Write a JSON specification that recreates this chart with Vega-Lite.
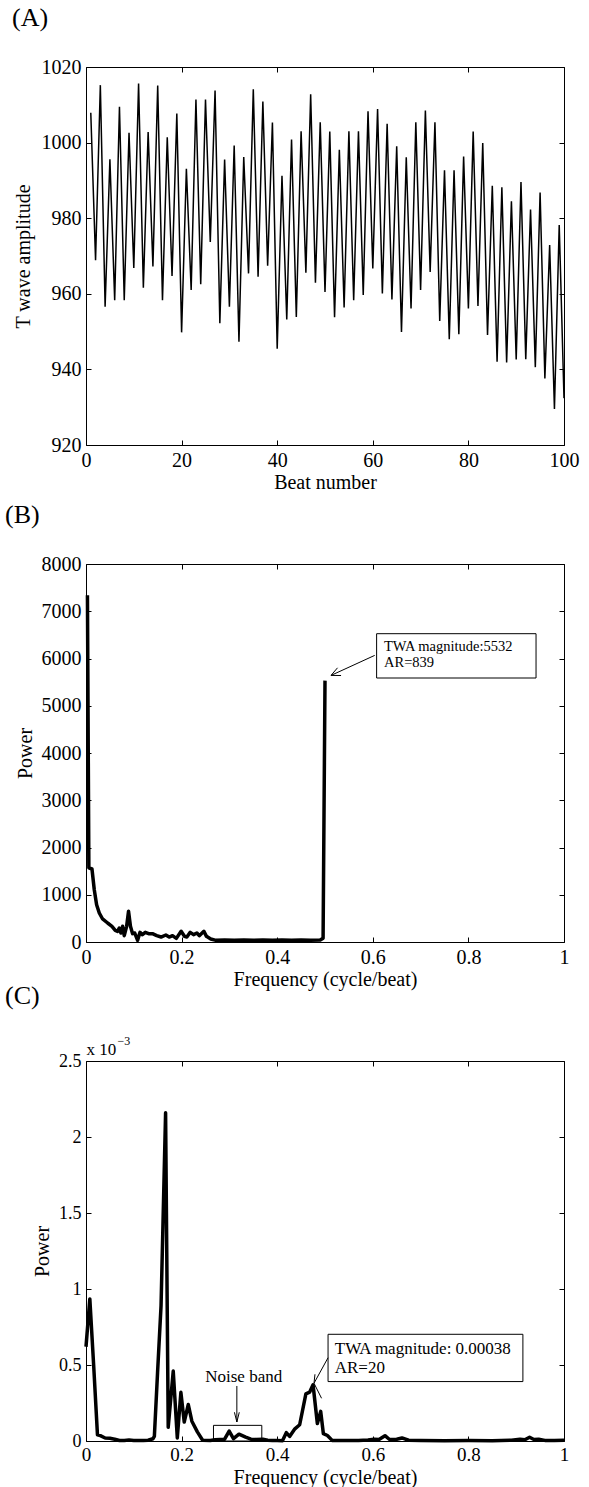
{
  "$schema": "https://vega.github.io/schema/vega-lite/v6.json",
  "background": "white",
  "padding": {"left": 5, "top": 5, "right": 5, "bottom": 5},
  "bounds": "flush",
  "spacing": 119,
  "config": {
    "font": "Liberation Serif",
    "view": {"stroke": null},
    "axis": {"grid": false, "domainColor": "black", "domainWidth": 1, "tickColor": "black", "tickSize": -5, "tickWidth": 1,
      "labelColor": "black", "titleColor": "black", "labelFont": "Liberation Serif", "titleFont": "Liberation Serif",
      "labelFontSize": 20, "titleFontSize": 20, "titleFontWeight": "normal", "labelFlush": false, "labelOverlap": false, "labelPadding": 10},
    "title": {"font": "Liberation Serif", "fontSize": 26, "fontWeight": "normal", "color": "black", "anchor": "start", "frame": "group"}
  },
  "datasets": {
    "beats": [
      {"beat":1,"amp":1007.9},{"beat":2,"amp":968.9},{"beat":3,"amp":1015.2},{"beat":4,"amp":956.6},{"beat":5,"amp":995.6},
      {"beat":6,"amp":958.3},{"beat":7,"amp":1009.5},{"beat":8,"amp":958.3},{"beat":9,"amp":1002.6},{"beat":10,"amp":966.8},
      {"beat":11,"amp":1015.6},{"beat":12,"amp":961.6},{"beat":13,"amp":1002.8},{"beat":14,"amp":967.2},{"beat":15,"amp":1015.1},
      {"beat":16,"amp":958.3},{"beat":17,"amp":1001.4},{"beat":18,"amp":964.7},{"beat":19,"amp":1007.7},{"beat":20,"amp":949.8},
      {"beat":21,"amp":993.1},{"beat":22,"amp":961},{"beat":23,"amp":1011.4},{"beat":24,"amp":962.5},{"beat":25,"amp":1011.4},
      {"beat":26,"amp":973.7},{"beat":27,"amp":1013.8},{"beat":28,"amp":952.2},{"beat":29,"amp":995.5},{"beat":30,"amp":956.6},
      {"beat":31,"amp":999.2},{"beat":32,"amp":947.3},{"beat":33,"amp":996.2},{"beat":34,"amp":965.4},{"beat":35,"amp":1014.1},
      {"beat":36,"amp":964.5},{"beat":37,"amp":1010.9},{"beat":38,"amp":967.4},{"beat":39,"amp":1005.3},{"beat":40,"amp":945.5},
      {"beat":41,"amp":991.2},{"beat":42,"amp":953.2},{"beat":43,"amp":1000.8},{"beat":44,"amp":953.9},{"beat":45,"amp":1003},
      {"beat":46,"amp":965.6},{"beat":47,"amp":1012.8},{"beat":48,"amp":962.9},{"beat":49,"amp":1005.4},{"beat":50,"amp":960.5},
      {"beat":51,"amp":1002.9},{"beat":52,"amp":953.8},{"beat":53,"amp":998.1},{"beat":54,"amp":956.4},{"beat":55,"amp":1003},
      {"beat":56,"amp":958.3},{"beat":57,"amp":1003},{"beat":58,"amp":959.7},{"beat":59,"amp":1008.3},{"beat":60,"amp":966.7},
      {"beat":61,"amp":1008.9},{"beat":62,"amp":960.1},{"beat":63,"amp":1005},{"beat":64,"amp":958.5},{"beat":65,"amp":999},
      {"beat":66,"amp":949.9},{"beat":67,"amp":996.1},{"beat":68,"amp":956.1},{"beat":69,"amp":1005.4},{"beat":70,"amp":961},
      {"beat":71,"amp":1008.5},{"beat":72,"amp":965.8},{"beat":73,"amp":1005.4},{"beat":74,"amp":952.8},{"beat":75,"amp":992.7},
      {"beat":76,"amp":948},{"beat":77,"amp":992.7},{"beat":78,"amp":949.3},{"beat":79,"amp":996.3},{"beat":80,"amp":956.1},
      {"beat":81,"amp":1002.9},{"beat":82,"amp":956.8},{"beat":83,"amp":999.9},{"beat":84,"amp":949.1},{"beat":85,"amp":988.6},
      {"beat":86,"amp":942},{"beat":87,"amp":988.2},{"beat":88,"amp":941.8},{"beat":89,"amp":984.5},{"beat":90,"amp":942.6},
      {"beat":91,"amp":989.6},{"beat":92,"amp":942.7},{"beat":93,"amp":982.3},{"beat":94,"amp":940.6},{"beat":95,"amp":986.8},
      {"beat":96,"amp":937.6},{"beat":97,"amp":972.9},{"beat":98,"amp":929.5},{"beat":99,"amp":978.2},{"beat":100,"amp":932.4}
    ],
    "specB": [
      {"f":0.003,"p":7340},{"f":0.006,"p":1570},{"f":0.0125,"p":1545},{"f":0.0173,"p":1107},{"f":0.0222,"p":789},
      {"f":0.0278,"p":614},{"f":0.0347,"p":487},{"f":0.0452,"p":402},{"f":0.0543,"p":332},{"f":0.0612,"p":247},
      {"f":0.066,"p":226},{"f":0.0696,"p":296},{"f":0.073,"p":190},{"f":0.0766,"p":332},{"f":0.08,"p":134},
      {"f":0.085,"p":332},{"f":0.089,"p":649},{"f":0.093,"p":332},{"f":0.0975,"p":176},{"f":0.102,"p":190},
      {"f":0.108,"p":35},{"f":0.113,"p":205},{"f":0.118,"p":155},{"f":0.124,"p":205},{"f":0.131,"p":176},
      {"f":0.139,"p":176},{"f":0.148,"p":134},{"f":0.157,"p":105},{"f":0.167,"p":148},{"f":0.174,"p":105},
      {"f":0.181,"p":134},{"f":0.189,"p":77},{"f":0.199,"p":226},{"f":0.206,"p":120},{"f":0.211,"p":105},
      {"f":0.218,"p":205},{"f":0.225,"p":155},{"f":0.232,"p":190},{"f":0.237,"p":134},{"f":0.2466,"p":226},
      {"f":0.252,"p":120},{"f":0.261,"p":64},{"f":0.272,"p":35},{"f":0.29,"p":40},{"f":0.31,"p":38},
      {"f":0.33,"p":42},{"f":0.35,"p":36},{"f":0.37,"p":40},{"f":0.39,"p":38},{"f":0.41,"p":42},
      {"f":0.43,"p":37},{"f":0.45,"p":40},{"f":0.47,"p":38},{"f":0.49,"p":42},{"f":0.496,"p":80},{"f":0.5,"p":5532}
    ],
    "specC": [
      {"f":0,"p":0.00062},{"f":0.008,"p":0.000935},{"f":0.016,"p":0.0005},{"f":0.024,"p":0.00004},{"f":0.03,"p":0.000035},
      {"f":0.04,"p":0.00002},{"f":0.05,"p":0.000018},{"f":0.06,"p":0.000012},{"f":0.07,"p":0.000003},{"f":0.08,"p":0.000004},
      {"f":0.09,"p":0.000006},{"f":0.1,"p":0.000004},{"f":0.11,"p":0.000003},{"f":0.12,"p":0.000004},{"f":0.13,"p":0.000005},
      {"f":0.14,"p":0.000015},{"f":0.143,"p":0.00003},{"f":0.1497,"p":0.00045},{"f":0.157,"p":0.00089},{"f":0.1665,"p":0.00216},
      {"f":0.172,"p":0.00009},{"f":0.1825,"p":0.00046},{"f":0.191,"p":0.00002},{"f":0.1985,"p":0.00032},{"f":0.2055,"p":0.000125},
      {"f":0.214,"p":0.00024},{"f":0.2215,"p":0.00013},{"f":0.233,"p":0.00006},{"f":0.244,"p":0.000005},{"f":0.26,"p":0.000004},
      {"f":0.27,"p":0.000008},{"f":0.28,"p":0.00001},{"f":0.29,"p":0.000012},{"f":0.2995,"p":0.000065},{"f":0.3085,"p":0.000015},
      {"f":0.32,"p":0.000045},{"f":0.334,"p":0.000025},{"f":0.345,"p":0.000012},{"f":0.355,"p":0.00001},{"f":0.37,"p":0.000012},
      {"f":0.38,"p":0.000005},{"f":0.39,"p":0.000003},{"f":0.4,"p":0.000004},{"f":0.411,"p":0.000002},{"f":0.419,"p":0.000055},
      {"f":0.426,"p":0.00003},{"f":0.437,"p":0.00008},{"f":0.447,"p":0.000107},{"f":0.46,"p":0.00031},{"f":0.468,"p":0.000322},
      {"f":0.475,"p":0.00037},{"f":0.484,"p":0.000115},{"f":0.491,"p":0.000195},{"f":0.4966,"p":0.000048},{"f":0.505,"p":0.000036},
      {"f":0.515,"p":0.000004},{"f":0.53,"p":0.000003},{"f":0.55,"p":0.000004},{"f":0.57,"p":0.000003},{"f":0.59,"p":0.000006},
      {"f":0.603,"p":0.000012},{"f":0.613,"p":0.00001},{"f":0.6255,"p":0.000035},{"f":0.635,"p":0.00001},{"f":0.65,"p":0.000012},
      {"f":0.661,"p":0.00002},{"f":0.675,"p":0.000005},{"f":0.7,"p":0.000003},{"f":0.75,"p":0.000002},{"f":0.8,"p":0.000003},
      {"f":0.85,"p":0.000002},{"f":0.89,"p":0.000005},{"f":0.908,"p":0.000012},{"f":0.918,"p":0.000008},{"f":0.928,"p":0.000025},
      {"f":0.937,"p":0.00001},{"f":0.947,"p":0.000012},{"f":0.96,"p":0.000004},{"f":0.98,"p":0.000004},{"f":1,"p":0.000005}
    ],
    "boxB": [{"f1":0.608,"f2":0.9415,"p1":5587,"p2":6525}],
    "textB": [{"f":0.6234,"p":6150,"t":"TWA magnitude:5532"},{"f":0.6234,"p":5812,"t":"AR=839"}],
    "arrowB": [
      {"f1":0.604,"p1":6066,"f2":0.5126,"p2":5642},
      {"f1":0.5126,"p1":5642,"f2":0.5262,"p2":5803},
      {"f1":0.5126,"p1":5642,"f2":0.5336,"p2":5640}
    ],
    "boxC": [{"f1":0.5064,"f2":0.914,"p1":0.000391,"p2":0.000702}],
    "noiseBox": [{"f1":0.2667,"f2":0.3678,"p1":0,"p2":0.000103}],
    "textC": [
      {"f":0.5204,"p":0.00057,"t":"TWA magnitude: 0.00038"},
      {"f":0.5204,"p":0.00045,"t":"AR=20"}
    ],
    "noiseText": [{"f":0.33,"p":0.000388,"t":"Noise band"}],
    "arrowC": [
      {"f1":0.5064,"p1":0.000548,"f2":0.477,"p2":0.00038},
      {"f1":0.477,"p1":0.00038,"f2":0.479,"p2":0.000439},
      {"f1":0.477,"p1":0.00038,"f2":0.4928,"p2":0.000281},
      {"f1":0.3156,"p1":0.000362,"f2":0.3156,"p2":0.000125},
      {"f1":0.3156,"p1":0.000125,"f2":0.3105,"p2":0.000189},
      {"f1":0.3156,"p1":0.000125,"f2":0.3207,"p2":0.000189}
    ],
    "expC": [
      {"f":0.001,"p":0.0025375,"t":"x 10","s":17},
      {"f":0.066,"p":0.002603,"t":"−3","s":12}
    ]
  },
  "vconcat": [
    {
      "title": {"text": "(A)", "dx": -74, "offset": 5, "baseline": "alphabetic"},
      "width": 478, "height": 378,
      "data": {"name": "beats"},
      "layer": [
        {"mark": {"type": "line", "color": "black", "strokeWidth": 1.5},
         "encoding": {
           "x": {"field": "beat", "type": "quantitative", "scale": {"domain": [0, 100], "nice": false, "zero": false},
                 "axis": {"orient": "bottom", "title": "Beat number", "values": [0, 20, 40, 60, 80, 100], "format": "d", "titleY": 43, "titleBaseline": "alphabetic"}},
           "y": {"field": "amp", "type": "quantitative", "scale": {"domain": [920, 1020], "nice": false, "zero": false},
                 "axis": {"orient": "left", "title": "T wave amplitude", "values": [920, 940, 960, 980, 1000, 1020], "format": "d", "titleX": -57, "titleBaseline": "alphabetic"}}
         }},
        {"mark": {"type": "line", "opacity": 0},
         "encoding": {
           "x": {"field": "beat", "type": "quantitative", "axis": {"orient": "top", "labels": false, "title": null, "values": [0, 20, 40, 60, 80, 100]}},
           "y": {"field": "amp", "type": "quantitative", "axis": {"orient": "right", "labels": false, "title": null, "values": [920, 940, 960, 980, 1000, 1020]}}
         }}
      ],
      "resolve": {"axis": {"x": "independent", "y": "independent"}}
    },
    {
      "title": {"text": "(B)", "dx": -81, "offset": 5, "baseline": "alphabetic"},
      "width": 478, "height": 378,
      "layer": [
        {"data": {"name": "specB"},
         "mark": {"type": "line", "color": "black", "strokeWidth": 3.5, "strokeJoin": "round"},
         "encoding": {
           "x": {"field": "f", "type": "quantitative", "scale": {"domain": [0, 1], "nice": false, "zero": false},
                 "axis": {"orient": "bottom", "title": "Frequency (cycle/beat)", "values": [0, 0.2, 0.4, 0.6, 0.8, 1], "format": "~g", "titleY": 43, "titleBaseline": "alphabetic"}},
           "y": {"field": "p", "type": "quantitative", "scale": {"domain": [0, 8000], "nice": false},
                 "axis": {"orient": "left", "title": "Power", "values": [0, 1000, 2000, 3000, 4000, 5000, 6000, 7000, 8000], "format": "d", "titleX": -55, "titleBaseline": "alphabetic"}}
         }},
        {"data": {"name": "specB"},
         "mark": {"type": "line", "opacity": 0},
         "encoding": {
           "x": {"field": "f", "type": "quantitative", "axis": {"orient": "top", "labels": false, "title": null, "values": [0, 0.2, 0.4, 0.6, 0.8, 1]}},
           "y": {"field": "p", "type": "quantitative", "axis": {"orient": "right", "labels": false, "title": null, "values": [0, 1000, 2000, 3000, 4000, 5000, 6000, 7000, 8000]}}
         }},
        {"data": {"name": "boxB"},
         "mark": {"type": "rect", "fill": "white", "stroke": "black", "strokeWidth": 1},
         "encoding": {
           "x": {"field": "f1", "type": "quantitative", "axis": null}, "x2": {"field": "f2"},
           "y": {"field": "p1", "type": "quantitative", "axis": null}, "y2": {"field": "p2"}
         }},
        {"data": {"name": "textB"},
         "mark": {"type": "text", "align": "left", "baseline": "alphabetic", "fontSize": 14.5, "color": "black", "font": "Liberation Serif"},
         "encoding": {
           "x": {"field": "f", "type": "quantitative", "axis": null},
           "y": {"field": "p", "type": "quantitative", "axis": null},
           "text": {"field": "t"}
         }},
        {"data": {"name": "arrowB"},
         "mark": {"type": "rule", "color": "black", "strokeWidth": 1},
         "encoding": {
           "x": {"field": "f1", "type": "quantitative", "axis": null}, "x2": {"field": "f2"},
           "y": {"field": "p1", "type": "quantitative", "axis": null}, "y2": {"field": "p2"}
         }}
      ],
      "resolve": {"axis": {"x": "independent", "y": "independent"}}
    },
    {
      "title": {"text": "(C)", "dx": -81, "offset": 5, "baseline": "alphabetic"},
      "width": 478, "height": 380,
      "layer": [
        {"data": {"name": "specC"},
         "mark": {"type": "line", "color": "black", "strokeWidth": 3.5, "strokeJoin": "round"},
         "encoding": {
           "x": {"field": "f", "type": "quantitative", "scale": {"domain": [0, 1], "nice": false, "zero": false},
                 "axis": {"orient": "bottom", "title": "Frequency (cycle/beat)", "values": [0, 0.2, 0.4, 0.6, 0.8, 1], "format": "~g", "labelFontSize": 19, "labelPadding": 9, "titleY": 42, "titleBaseline": "alphabetic"}},
           "y": {"field": "p", "type": "quantitative", "scale": {"domain": [0, 0.0025], "nice": false},
                 "axis": {"orient": "left", "title": "Power", "values": [0, 0.0005, 0.001, 0.0015, 0.002, 0.0025], "labelExpr": "format(datum.value * 1000, '.1~f')", "labelFontSize": 18, "titleX": -38, "titleBaseline": "alphabetic"}}
         }},
        {"data": {"name": "specC"},
         "mark": {"type": "line", "opacity": 0},
         "encoding": {
           "x": {"field": "f", "type": "quantitative", "axis": {"orient": "top", "labels": false, "title": null, "values": [0, 0.2, 0.4, 0.6, 0.8, 1]}},
           "y": {"field": "p", "type": "quantitative", "axis": {"orient": "right", "labels": false, "title": null, "values": [0, 0.0005, 0.001, 0.0015, 0.002, 0.0025]}}
         }},
        {"data": {"name": "noiseBox"},
         "mark": {"type": "rect", "fill": null, "fillOpacity": 0, "stroke": "black", "strokeWidth": 1},
         "encoding": {
           "x": {"field": "f1", "type": "quantitative", "axis": null}, "x2": {"field": "f2"},
           "y": {"field": "p1", "type": "quantitative", "axis": null}, "y2": {"field": "p2"}
         }},
        {"data": {"name": "boxC"},
         "mark": {"type": "rect", "fill": "white", "stroke": "black", "strokeWidth": 1},
         "encoding": {
           "x": {"field": "f1", "type": "quantitative", "axis": null}, "x2": {"field": "f2"},
           "y": {"field": "p1", "type": "quantitative", "axis": null}, "y2": {"field": "p2"}
         }},
        {"data": {"name": "textC"},
         "mark": {"type": "text", "align": "left", "baseline": "alphabetic", "fontSize": 17, "color": "black", "font": "Liberation Serif"},
         "encoding": {
           "x": {"field": "f", "type": "quantitative", "axis": null},
           "y": {"field": "p", "type": "quantitative", "axis": null},
           "text": {"field": "t"}
         }},
        {"data": {"name": "noiseText"},
         "mark": {"type": "text", "align": "center", "baseline": "alphabetic", "fontSize": 17, "color": "black", "font": "Liberation Serif"},
         "encoding": {
           "x": {"field": "f", "type": "quantitative", "axis": null},
           "y": {"field": "p", "type": "quantitative", "axis": null},
           "text": {"field": "t"}
         }},
        {"data": {"name": "expC"},
         "mark": {"type": "text", "align": "left", "baseline": "alphabetic", "color": "black", "font": "Liberation Serif"},
         "encoding": {
           "x": {"field": "f", "type": "quantitative", "axis": null},
           "y": {"field": "p", "type": "quantitative", "axis": null},
           "text": {"field": "t"},
           "size": {"field": "s", "type": "quantitative", "scale": null}
         }},
        {"data": {"name": "arrowC"},
         "mark": {"type": "rule", "color": "black", "strokeWidth": 1},
         "encoding": {
           "x": {"field": "f1", "type": "quantitative", "axis": null}, "x2": {"field": "f2"},
           "y": {"field": "p1", "type": "quantitative", "axis": null}, "y2": {"field": "p2"}
         }}
      ],
      "resolve": {"axis": {"x": "independent", "y": "independent"}}
    }
  ]
}
